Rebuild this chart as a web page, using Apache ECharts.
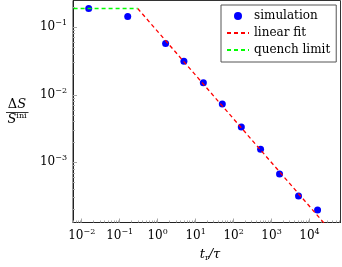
<!DOCTYPE html>
<html>
<head>
<meta charset="utf-8">
<script src="https://cdn.jsdelivr.net/npm/echarts@6/dist/echarts.min.js"></script>
<style>html,body{margin:0;padding:0;background:#fff}#c{width:342px;height:267px}</style>
</head>
<body>
<div id="c"></div>
<script>
// Simulation data (t_r/tau, DeltaS/S_ini)
const simX = [0.0153, 0.163, 1.62, 4.92, 16.0, 50.5, 160, 514, 1625, 5140, 16300];
const simY = [0.189, 0.144, 0.0575, 0.0312, 0.0151, 0.00731, 0.00335, 0.00157, 0.000671, 0.000318, 0.000198];
// Linear fit endpoints
const fitX = [0.298, 30000];
const fitY = [0.189, 0.00011];
// Quench limit endpoints
const quenchX = [0.004, 0.298];
const quenchY = [0.189, 0.189];
// Tick values
const xMajor = [0.01, 0.1, 1, 10, 100, 1000, 10000];
const yMajor = [0.001, 0.01, 0.1];
const xRange = [0.0059, 65500];
const yRange = [0.000129, 0.248];

function minors(lo, hi) {
  const out = [];
  for (let e = lo; e <= hi; e++) {
    for (let m = 2; m <= 9; m++) out.push(+(m * Math.pow(10, e)).toPrecision(3));
  }
  return out;
}
const xMinor = minors(-3, 4);
const yMinor = minors(-4, -1);

const FONT = 'DejaVu Serif';
function expLabel(v) {
  const e = Math.round(Math.log10(v));
  const s = e < 0 ? '\u2212' + (-e) : '' + e;
  return '{b|10}{s|' + s + '}';
}
const richLab = {
  b: { fontFamily: FONT, fontSize: 12, color: '#000', lineHeight: 16 },
  s: { fontFamily: FONT, fontSize: 8, color: '#000', padding: [0, 0, 8, 0] }
};

const chart = echarts.init(document.getElementById('c'), null, { renderer: 'canvas' });
const tickColor = '#a8a8a8';
chart.setOption({
  animation: false,
  textStyle: { fontFamily: FONT },
  grid: { left: 73, right: 1.5, top: 0.5, bottom: 44.5, show: true, borderColor: '#333', borderWidth: 1, containLabel: false },
  xAxis: [{
    type: 'log', logBase: 10, min: xRange[0], max: xRange[1],
    axisLine: { show: true, lineStyle: { color: '#222', width: 1 } },
    axisTick: { show: true, inside: true, length: 4, customValues: xMajor, lineStyle: { color: tickColor } },
    axisLabel: { show: true, customValues: xMajor, margin: 5, fontFamily: FONT, formatter: expLabel, rich: richLab },
    splitLine: { show: false }, minorTick: { show: false }
  }, {
    type: 'log', logBase: 10, min: xRange[0], max: xRange[1], position: 'bottom',
    axisLine: { show: false },
    axisTick: { show: true, inside: true, length: 2, customValues: xMinor, lineStyle: { color: tickColor } },
    axisLabel: { show: false }, splitLine: { show: false }
  }],
  yAxis: [{
    type: 'log', logBase: 10, min: yRange[0], max: yRange[1],
    axisLine: { show: true, lineStyle: { color: '#222', width: 1 } },
    axisTick: { show: true, inside: true, length: 4, customValues: yMajor, lineStyle: { color: tickColor } },
    axisLabel: { show: true, customValues: yMajor, margin: 6, fontFamily: FONT, formatter: expLabel, rich: richLab },
    splitLine: { show: false }, minorTick: { show: false }
  }, {
    type: 'log', logBase: 10, min: yRange[0], max: yRange[1], position: 'left',
    axisLine: { show: false },
    axisTick: { show: true, inside: true, length: 2, customValues: yMinor, lineStyle: { color: tickColor } },
    axisLabel: { show: false }, splitLine: { show: false }
  }],
  legend: {
    orient: 'vertical', left: 221, top: 5,
    backgroundColor: '#fff', borderColor: '#555', borderWidth: 1,
    padding: [5, 6, 6, 5], itemWidth: 22, itemHeight: 8, itemGap: 5,
    textStyle: { fontFamily: FONT, fontSize: 12, color: '#000' },
    data: [
      { name: 'simulation' },
      { name: 'linear fit', itemStyle: { opacity: 0 } },
      { name: 'quench limit', itemStyle: { opacity: 0 } }
    ]
  },
  series: [{
    name: 'simulation', type: 'scatter', symbol: 'circle', symbolSize: 7,
    itemStyle: { color: '#0000ff', opacity: 1 },
    data: simX.map((x, i) => [x, simY[i]])
  }, {
    name: 'linear fit', type: 'line', symbol: 'none', clip: true,
    lineStyle: { color: '#ff0000', width: 1.3, type: [4, 3] }, itemStyle: { color: '#ff0000' },
    data: fitX.map((x, i) => [x, fitY[i]])
  }, {
    name: 'quench limit', type: 'line', symbol: 'none', clip: true,
    lineStyle: { color: '#00ff00', width: 1.3, type: [4, 3] }, itemStyle: { color: '#00ff00' },
    data: quenchX.map((x, i) => [x, quenchY[i]])
  }],
  graphic: [
    { type: 'text', x: 17, y: 104.5, style: { text: '{r|Δ}{i|S}', align: 'center', verticalAlign: 'middle',
      rich: { r: { fontFamily: FONT, fontSize: 13, fill: '#000' }, i: { fontFamily: FONT, fontSize: 13, fontStyle: 'italic', fill: '#000' } } } },
    { type: 'line', shape: { x1: 6, y1: 112.5, x2: 28.5, y2: 112.5 }, style: { stroke: '#000', lineWidth: 0.8 } },
    { type: 'text', x: 17, y: 120, style: { text: '{i|S}{s|ini}', align: 'center', verticalAlign: 'middle',
      rich: { i: { fontFamily: FONT, fontSize: 13, fontStyle: 'italic', fill: '#000' }, s: { fontFamily: FONT, fontSize: 8, fill: '#000', padding: [0, 0, 8, 0] } } } },
    { type: 'text', x: 210, y: 255, style: { text: '{i|t}{s|r}{i|/τ}', align: 'center', verticalAlign: 'middle',
      rich: { i: { fontFamily: FONT, fontSize: 13, fontStyle: 'italic', fill: '#000' }, s: { fontFamily: FONT, fontSize: 8, fill: '#000', padding: [6, 0, 0, 0] } } } }
  ]
});
</script>
</body>
</html>
